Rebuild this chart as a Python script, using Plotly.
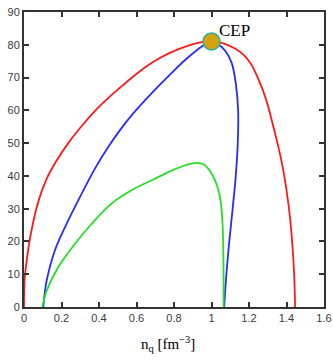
import plotly.graph_objects as go

# Red curve
red_x = [0.0, 0.003, 0.014, 0.037, 0.077, 0.12, 0.17, 0.236, 0.3, 0.39, 0.45, 0.51, 0.565, 0.62, 0.69,
         0.78, 0.868, 0.94, 1.0, 1.06, 1.12, 1.17, 1.21, 1.25, 1.29, 1.33, 1.36, 1.385, 1.41, 1.428,
         1.44, 1.446]
red_y = [0, 8, 14, 22.5, 32.3, 39, 44.3, 50, 54.7, 60.5, 63.8, 66.8, 69.5, 72, 74.8,
         77.6, 79.6, 80.7, 81, 80.5, 79, 77, 74.2, 69.5, 63.5, 55, 48, 41, 31.5, 21.5,
         11, 0]

# Blue curve
blue_x = [0.103, 0.11, 0.121, 0.165, 0.219, 0.29, 0.379, 0.45, 0.51, 0.58, 0.69, 0.78, 0.868, 0.956, 1.0,
          1.04, 1.075, 1.108, 1.13, 1.142, 1.14, 1.128, 1.11, 1.092, 1.077, 1.068]
blue_y = [0, 4, 8.1, 17.3, 24.4, 32.6, 42.3, 48.9, 53.8, 58.9, 65.8, 71, 75.8, 79.8, 81,
          80, 78, 74.4, 68, 60, 50, 39, 28.5, 18.3, 8.2, 0]

# Green curve
green_x = [0.098, 0.108, 0.121, 0.183, 0.272, 0.361, 0.468, 0.592, 0.69, 0.79, 0.868, 0.92, 0.96,
           0.992, 1.02, 1.042, 1.055, 1.061, 1.064, 1.065]
green_y = [0, 2.5, 5, 12.2, 19.3, 25.4, 31.6, 36.2, 38.9, 41.7, 43.4, 44, 43.5,
           41.5, 38.5, 34.5, 29, 22, 12, 0]

# Critical end point
cep_x = [1.0]
cep_y = [81]
cep_label = "CEP"

x_ticks = [0, 0.2, 0.4, 0.6, 0.8, 1.0, 1.2, 1.4, 1.6]
x_ticktext = ["0", "0.2", "0.4", "0.6", "0.8", "1", "1.2", "1.4", "1.6"]
y_ticks = [0, 10, 20, 30, 40, 50, 60, 70, 80, 90]
x_title = "n<sub>q</sub> [fm<sup>−3</sup>]"

fig = go.Figure()
for xs, ys, col in [(red_x, red_y, "#ff1a1a"), (blue_x, blue_y, "#2a2aff"), (green_x, green_y, "#22e022")]:
    fig.add_trace(go.Scatter(x=xs, y=ys, mode="lines",
                             line=dict(color=col, width=1.8, shape="spline", smoothing=1.0),
                             showlegend=False, hoverinfo="skip"))

fig.add_trace(go.Scatter(x=cep_x, y=cep_y, mode="markers",
                         marker=dict(size=17, color="#d4a20a", line=dict(color="#1fb0a8", width=1.5)),
                         showlegend=False, hoverinfo="skip"))

fig.add_annotation(x=cep_x[0], y=cep_y[0], text=cep_label, showarrow=False,
                   xanchor="left", yanchor="middle", xshift=5, yshift=11,
                   font=dict(family="Liberation Serif", size=17, color="black"))

# x-axis title (placed as annotation to match horizontal placement)
fig.add_annotation(x=0.48, y=0, xref="paper", yref="paper", text=x_title, showarrow=False,
                   xanchor="center", yanchor="middle", yshift=-37,
                   font=dict(family="Liberation Serif", size=15, color="black"))

axis_common = dict(showline=True, linecolor="#333", linewidth=2, mirror="allticks",
                   ticks="inside", ticklen=5, tickwidth=1.5, tickcolor="#333",
                   showgrid=False, zeroline=False, automargin=False,
                   ticklabeloverflow="allow",
                   tickfont=dict(family="Liberation Sans", size=11, color="#3a3a3a"))

fig.update_xaxes(range=[0, 1.6], tickvals=x_ticks, ticktext=x_ticktext, **axis_common)
fig.update_yaxes(range=[0, 90], tickvals=y_ticks, **axis_common)

fig.update_layout(width=333, height=362, margin=dict(l=24, r=9, t=12, b=55),
                  paper_bgcolor="white", plot_bgcolor="white")

# remove the default page margin so the figure fills the window exactly
fig.write_html("out.html", config={"displayModeBar": False},
               post_script="document.body.style.margin='0';document.body.style.overflow='hidden';")
